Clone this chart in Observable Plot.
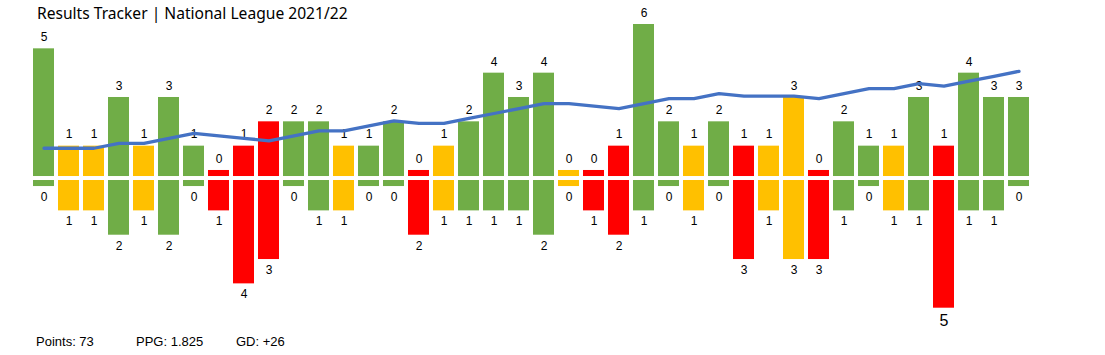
<!DOCTYPE html>
<html><head><meta charset="utf-8">
<script src="https://cdn.jsdelivr.net/npm/d3@7"></script>
<script src="https://cdn.jsdelivr.net/npm/@observablehq/plot@0.6"></script>
<style>
body{margin:0;background:#fff;}
#wrap{position:relative;width:1105px;height:355px;overflow:hidden;background:#fff;}
#chart{position:absolute;left:0;top:0;}
#title{position:absolute;left:37px;top:2px;font-family:"Noto Sans",sans-serif;font-size:15.6px;color:#000;white-space:nowrap;}
.cap{position:absolute;top:334px;font-family:"Liberation Sans",Arial,sans-serif;font-size:13px;color:#000;white-space:nowrap;}
</style></head><body>
<div id="wrap"><div id="chart"></div><div id="title"></div><div id="caps"></div></div>
<script>
const titleText = "Results Tracker | National League 2021/22";
const matches = d3.range(1, 41);
const results = ["W","D","D","W","D","W","W","L","L","L","W","W","D","W","W","L","D","W","W","W","W","D","L","L","W","W","D","W","L","D","D","L","W","W","D","W","L","W","W","W"];
const goalsFor = [5,1,1,3,1,3,1,0,1,2, 2,2,1,1,2,0,1,2,4,3, 4,0,0,1,6,2,1,2,1,1, 3,0,2,1,1,3,1,4,3,3];
const goalsAgainst = [0,1,1,2,1,2,0,1,4,3, 0,1,1,0,0,2,1,1,1,1, 2,0,1,2,1,0,1,0,3,1, 3,3,1,0,1,1,5,1,1,0];
// cumulative points above one point per game
const pointsAbovePace = [2,2,2,4,4,6,8,7,6,5, 7,9,9,11,13,12,12,14,16,18, 20,20,19,18,20,22,22,24,23,23, 23,22,24,26,26,28,27,29,31,33];
const summaryLabels = ["Points: 73", "PPG: 1.825", "GD: +26"];
const summaryLeft = [36, 136, 236];

const resultDomain = ["W","D","L"];
const resultColors = ["#70AD47","#FFC000","#FF0000"];

const gap = 0.082, base = 0.33;
const rows = matches.map((m, i) => ({
  match: m, result: results[i], gf: goalsFor[i], ga: goalsAgainst[i], line: pointsAbovePace[i]
}));
const lineY = v => 1.04 + 0.102 * v; // secondary-axis mapping onto the goals scale

const plot = Plot.plot({
  width: 1105,
  height: 330,
  x: {type: "band", domain: matches, range: [31, 1031], paddingInner: 0.16, paddingOuter: 0.08, axis: null},
  y: {domain: [-6, 7], range: [324, 7.7], axis: null},
  color: {domain: resultDomain, range: resultColors},
  style: {background: "transparent", overflow: "visible"},
  marks: [
    Plot.barY(rows, {x: "match", y1: gap, y2: d => d.gf + base, fill: "result"}),
    Plot.barY(rows, {x: "match", y1: -gap, y2: d => -(d.ga + base), fill: "result"}),
    Plot.text(rows, {x: "match", y: d => d.gf + base, text: d => String(d.gf), dy: -11.5,
      fontFamily: "Liberation Sans, Arial, sans-serif", fontSize: 12, fill: "#000"}),
    Plot.text(rows, {x: "match", y: d => -(d.ga + base), text: d => String(d.ga), dy: 6,
      fontFamily: "Liberation Sans, Arial, sans-serif", fontSize: d => d.ga >= 5 ? 16 : 12, fill: "#000",
      lineAnchor: "top"}),
    Plot.lineY(rows, {x: "match", y: d => lineY(d.line), stroke: "#4472C4", strokeWidth: 3.3,
      strokeLinejoin: "round", strokeLinecap: "round"})
  ]
});
document.getElementById("chart").appendChild(plot);
document.getElementById("title").textContent = titleText;
const caps = document.getElementById("caps");
summaryLabels.forEach((t, i) => {
  const s = document.createElement("div");
  s.className = "cap"; s.style.left = summaryLeft[i] + "px"; s.textContent = t;
  caps.appendChild(s);
});
</script>
</body></html>
